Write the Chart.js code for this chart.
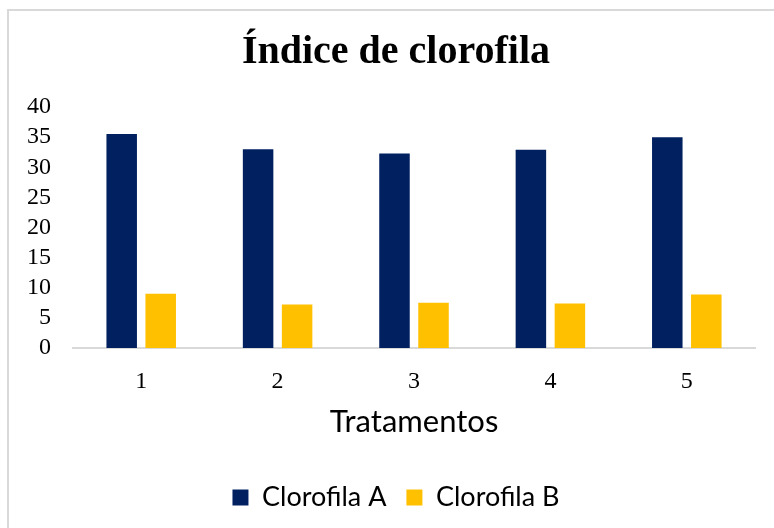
<!DOCTYPE html>
<html>
<head>
<meta charset="utf-8">
<script src="https://cdn.jsdelivr.net/npm/chart.js@4/dist/chart.umd.min.js"></script>
<style>
  html, body { margin: 0; padding: 0; background: #fff; overflow: hidden; }
  #frame {
    position: absolute; left: 7px; top: 9px; width: 800px; height: 560px;
    border-left: 2px solid #d9d9d9; border-top: 2px solid #d9d9d9;
  }
  #chart { position: absolute; left: 0; top: 0; }
</style>
</head>
<body>
<div id="frame"></div>
<canvas id="chart" width="774" height="528"></canvas>
<script>
// Chart data
const tratamentos = ['1', '2', '3', '4', '5'];
const clorofilaA = [35.5, 33.0, 32.3, 32.9, 35.0];
const clorofilaB = [9.0, 7.2, 7.5, 7.4, 8.9];
const yTicks = [0, 5, 10, 15, 20, 25, 30, 35, 40];

const serif = "'Liberation Serif', 'Times New Roman', serif";
const sans = "Lato, 'Open Sans', sans-serif";

const ctx = document.getElementById('chart').getContext('2d');

new Chart(ctx, {
  type: 'bar',
  data: {
    labels: tratamentos,
    datasets: [{
      label: 'Clorofila A',
      data: clorofilaA,
      backgroundColor: '#002060',
      categoryPercentage: 0.572,
      barPercentage: 0.782
    }, {
      label: 'Clorofila B',
      data: clorofilaB,
      backgroundColor: '#ffc000',
      categoryPercentage: 0.572,
      barPercentage: 0.782
    }]
  },
  options: {
    responsive: false,
    animation: false,
    layout: {
      padding: { left: 20, right: 2, top: 0, bottom: 7 }
    },
    plugins: {
      title: {
        display: true,
        text: 'Índice de clorofila',
        color: '#000',
        font: { family: serif, size: 40, weight: 'bold', lineHeight: 1.2 },
        padding: { top: 29, bottom: 30 }
      },
      legend: {
        position: 'bottom',
        labels: {
          color: '#000',
          font: { family: sans, size: 27 },
          boxWidth: 16,
          boxHeight: 16,
          padding: 20
        }
      },
      tooltip: { enabled: false }
    },
    scales: {
      x: {
        afterFit: axis => {
          axis.height = 116;
        },
        grid: { display: false, drawTicks: false },
        border: { display: true, color: '#d9d9d9', width: 2 },
        ticks: {
          color: '#000',
          font: { family: serif, size: 24 },
          padding: 19
        },
        title: {
          display: true,
          text: 'Tratamentos',
          color: '#000',
          font: { family: sans, size: 31, lineHeight: 1.2 },
          padding: { top: 0, bottom: 23 }
        }
      },
      y: {
        min: 0,
        max: 40,
        afterBuildTicks: axis => {
          axis.ticks = yTicks.map(v => ({ value: v }));
        },
        afterFit: axis => {
          axis.width = 53;
        },
        grid: { display: false, drawTicks: false },
        border: { display: false },
        ticks: {
          autoSkip: false,
          color: '#000',
          font: { family: serif, size: 24 },
          padding: 22
        }
      },
      // empty right-hand spacer so the chart area ends where the original does
      y2: {
        position: 'right',
        afterFit: axis => {
          axis.width = 17;
        },
        grid: { display: false, drawTicks: false },
        border: { display: false },
        ticks: { display: false }
      }
    }
  }
});
</script>
</body>
</html>
